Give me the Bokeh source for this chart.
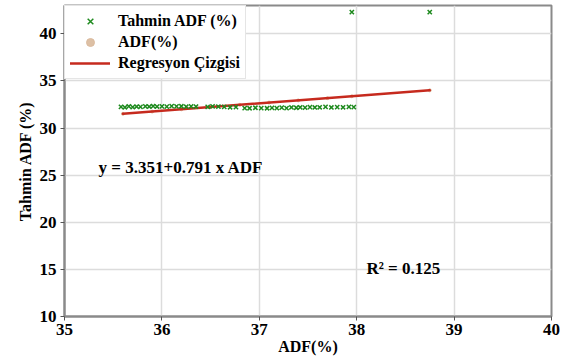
from bokeh.plotting import figure
from bokeh.models import Range1d, Label, Legend, LegendItem, FixedTicker
from bokeh.embed import file_html
from bokeh.resources import INLINE

# Tahmin ADF (%) scatter (green x)
pred_x = [35.58, 35.62, 35.66, 35.70, 35.74, 35.78, 35.83, 35.87, 35.91, 35.95,
          36.00, 36.05, 36.10, 36.15, 36.20, 36.25, 36.30, 36.35, 36.47, 36.52,
          36.58, 36.64, 36.70, 36.76, 36.85, 36.90, 36.96, 37.02, 37.08, 37.13,
          37.18, 37.23, 37.28, 37.33, 37.38, 37.42, 37.47, 37.52, 37.57, 37.62,
          37.68, 37.74, 37.80, 37.86, 37.92, 37.97, 37.95, 38.75]
pred_y = [32.25, 32.20, 32.30, 32.22, 32.28, 32.24, 32.30, 32.26, 32.32, 32.28,
          32.30, 32.27, 32.33, 32.29, 32.31, 32.26, 32.30, 32.28, 32.25, 32.30,
          32.27, 32.24, 32.20, 32.22, 32.12, 32.10, 32.15, 32.12, 32.10, 32.14,
          32.12, 32.16, 32.12, 32.18, 32.15, 32.20, 32.17, 32.22, 32.18, 32.20,
          32.24, 32.18, 32.22, 32.20, 32.24, 32.22, 42.30, 42.30]

# ADF(%) points (tan), lying on the regression line
adf_x = [35.60, 35.90, 36.20, 36.50, 36.80, 37.10, 37.40, 37.70, 37.95, 38.75]
adf_y = [31.51, 31.75, 31.99, 32.22, 32.46, 32.70, 32.93, 33.17, 33.37, 34.00]

# Regression line endpoints
reg_x = [35.60, 38.75]
reg_y = [31.51, 34.00]

x_ticks = [35, 36, 37, 38, 39, 40]
y_ticks = [10, 15, 20, 25, 30, 35, 40]

FONT = "Liberation Serif"

p = figure(width=576, height=358, output_backend="svg", toolbar_location=None,
           x_range=Range1d(35, 40), y_range=Range1d(10, 43.0),
           min_border_left=64, min_border_right=25, min_border_top=5, min_border_bottom=42)

p.background_fill_color = "white"
p.border_fill_color = "white"
p.outline_line_color = "#8a8a8a"
p.outline_line_width = 2

for ax in (p.xaxis[0], p.yaxis[0]):
    ax.axis_line_color = "#8a8a8a"
    ax.axis_line_width = 2
    ax.major_tick_line_color = "#555555"
    ax.major_tick_out = 4
    ax.major_tick_in = 0
    ax.minor_tick_line_color = None
    ax.major_label_text_font = FONT
    ax.major_label_text_font_style = "bold"
    ax.major_label_text_font_size = "17px"
    ax.major_label_text_color = "black"
    ax.axis_label_text_font = FONT
    ax.axis_label_text_font_style = "bold"
    ax.axis_label_text_font_size = "16px"
    ax.axis_label_text_color = "black"

p.xaxis.ticker = FixedTicker(ticks=x_ticks)
p.yaxis.ticker = FixedTicker(ticks=y_ticks)
p.xaxis.axis_label = "ADF(%)"
p.yaxis.axis_label = "Tahmin ADF (%)"
p.xaxis.axis_label_standoff = 0
p.yaxis.axis_label_standoff = 3
p.xaxis.major_label_standoff = 3
p.yaxis.major_label_standoff = 4

p.xgrid.ticker = FixedTicker(ticks=x_ticks)
p.ygrid.ticker = FixedTicker(ticks=y_ticks)
p.grid.grid_line_color = "#dcdcdc"
p.grid.grid_line_width = 1.5

r_adf = p.scatter(adf_x, adf_y, marker="circle", size=3, color="#d9b99b", alpha=0.9)
r_reg = p.line(reg_x, reg_y, line_color="#c62a1e", line_width=2.5, line_cap="round")
r_pred = p.scatter(pred_x, pred_y, marker="x", size=6, line_color="#1e8a1e", line_width=1.5)

legend = Legend(items=[
    LegendItem(label="Tahmin ADF (%)", renderers=[r_pred]),
    LegendItem(label="ADF(%)", renderers=[r_adf]),
    LegendItem(label="Regresyon Çizgisi", renderers=[r_reg]),
], location="top_left")
legend.label_text_font = FONT
legend.label_text_font_style = "bold"
legend.label_text_font_size = "16px"
legend.label_text_color = "black"
legend.glyph_width = 40
legend.label_standoff = 8
legend.spacing = 1
legend.padding = 5
legend.margin = 0
legend.border_line_color = "#cccccc"
legend.border_line_width = 1
legend.background_fill_alpha = 1.0
p.add_layout(legend)

p.add_layout(Label(x=35.35, y=25.8, text="y = 3.351+0.791 x ADF", text_font=FONT,
                   text_font_style="bold", text_font_size="17px", text_color="black",
                   text_baseline="middle"))
p.add_layout(Label(x=38.1, y=15.1, text="R² = 0.125", text_font=FONT,
                   text_font_style="bold", text_font_size="17px", text_color="black",
                   text_baseline="middle"))

open("out.html", "w").write(file_html(p, INLINE))
